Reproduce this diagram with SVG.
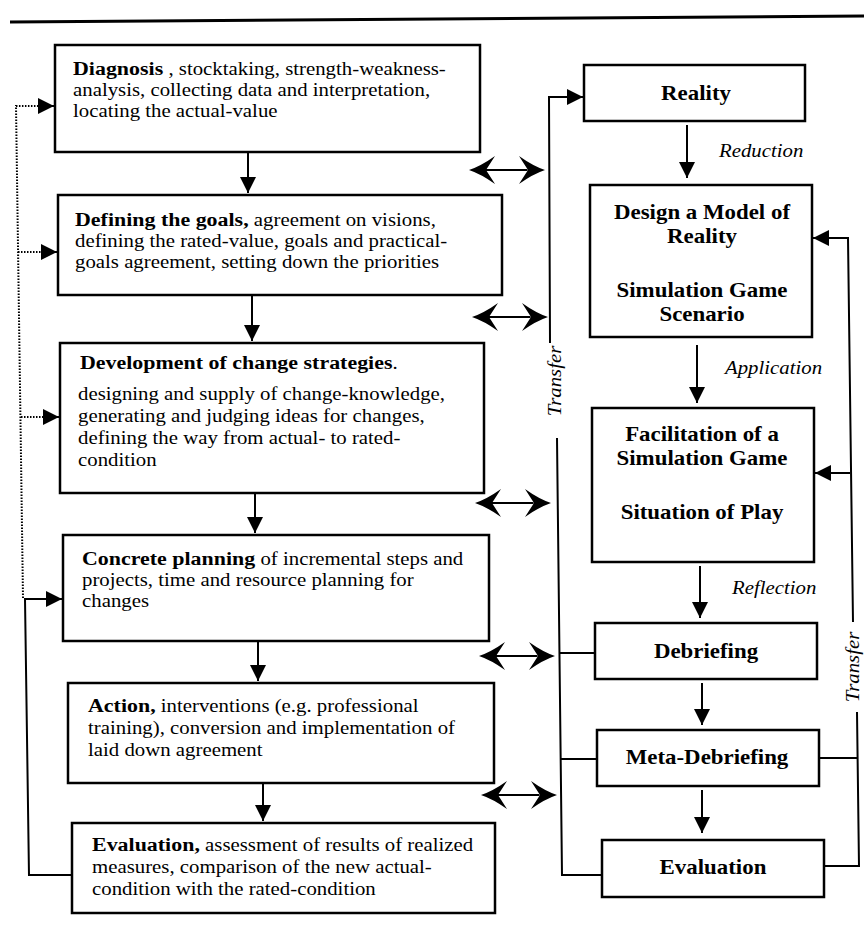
<svg xmlns="http://www.w3.org/2000/svg" xmlns:xlink="http://www.w3.org/1999/xlink" width="864" height="926" viewBox="0 0 864 926">
<style>
.box{fill:#fff;stroke:#000;stroke-width:2.5}
.ln{fill:none;stroke:#000;stroke-width:2}
.dot{fill:none;stroke:#000;stroke-width:2;stroke-dasharray:1.5 1.5}
.t{font-family:"Liberation Serif","Times New Roman",serif;font-size:18.5px;fill:#000}
.b{font-weight:bold;font-size:19.5px}
.rb{font-family:"Liberation Serif","Times New Roman",serif;font-weight:bold;font-size:22px;fill:#000;text-anchor:middle}
.it{font-family:"Liberation Serif","Times New Roman",serif;font-style:italic;font-size:18.5px;fill:#000}
</style>
<defs>
<marker id="ah" viewBox="0 0 16 16" refX="16" refY="8" markerUnits="userSpaceOnUse" markerWidth="16" markerHeight="16" orient="auto"><path d="M0,0 L16,8 L0,16 Z" fill="#000"/></marker>
<path id="dbl" d="M0,0 Q12,-4 26,-14 L17,0 L26,14 Q12,4 0,0 Z M76,0 Q64,-4 50,-14 L59,0 L50,14 Q64,4 76,0 Z M17,-1 H59 V1 H17 Z" fill="#000"/>
</defs>
<line x1="10" y1="22" x2="864" y2="16" stroke="#000" stroke-width="3"/>

<g id="diagnosis">
<rect class="box" x="55" y="45" width="425" height="107"/>
<text class="t" transform="translate(73,75) scale(1.125,1)"><tspan class="b">Diagnosis</tspan> , stocktaking, strength-weakness-</text>
<text class="t" transform="translate(73,96) scale(1.125,1)">analysis, collecting data and interpretation,</text>
<text class="t" transform="translate(73,117) scale(1.125,1)">locating the actual-value</text>
</g>
<g id="goals">
<rect class="box" x="58" y="195" width="444" height="100"/>
<text class="t" transform="translate(75,226) scale(1.125,1)"><tspan class="b">Defining the goals,</tspan> agreement on visions,</text>
<text class="t" transform="translate(75,247) scale(1.125,1)">defining the rated-value, goals and practical-</text>
<text class="t" transform="translate(75,268) scale(1.125,1)">goals agreement, setting down the priorities</text>
</g>
<g id="strategies">
<rect class="box" x="60" y="343" width="424" height="150"/>
<text class="t" transform="translate(80,369) scale(1.125,1)"><tspan class="b">Development of change strategies</tspan>.</text>
<text class="t" transform="translate(78,400) scale(1.125,1)">designing and supply of change-knowledge,</text>
<text class="t" transform="translate(78,422) scale(1.125,1)">generating and judging ideas for changes,</text>
<text class="t" transform="translate(78,444) scale(1.125,1)">defining the way from actual- to rated-</text>
<text class="t" transform="translate(78,466) scale(1.125,1)">condition</text>
</g>
<g id="planning">
<rect class="box" x="63" y="535" width="426" height="106"/>
<text class="t" transform="translate(82,565) scale(1.125,1)"><tspan class="b">Concrete planning</tspan> of incremental steps and</text>
<text class="t" transform="translate(82,586) scale(1.125,1)">projects, time and resource planning for</text>
<text class="t" transform="translate(82,607) scale(1.125,1)">changes</text>
</g>
<g id="action">
<rect class="box" x="68" y="683" width="426" height="100"/>
<text class="t" transform="translate(88,712) scale(1.125,1)"><tspan class="b">Action,</tspan> interventions (e.g. professional</text>
<text class="t" transform="translate(88,734) scale(1.125,1)">training), conversion and implementation of</text>
<text class="t" transform="translate(88,756) scale(1.125,1)">laid down agreement</text>
</g>
<g id="evaluation-left">
<rect class="box" x="72" y="823" width="423" height="90"/>
<text class="t" transform="translate(92,851) scale(1.125,1)"><tspan class="b">Evaluation,</tspan> assessment of results of realized</text>
<text class="t" transform="translate(92,873) scale(1.125,1)">measures, comparison of the new actual-</text>
<text class="t" transform="translate(92,895) scale(1.125,1)">condition with the rated-condition</text>
</g>

<g id="reality">
<rect class="box" x="584" y="65" width="221" height="56"/>
<text class="rb" transform="translate(696,100) scale(1.04,1)">Reality</text>
</g>
<g id="model">
<rect class="box" x="590" y="185" width="222" height="152"/>
<text class="rb" transform="translate(702,219) scale(1.04,1)">Design a Model  of</text>
<text class="rb" transform="translate(702,243) scale(1.04,1)">Reality</text>
<text class="rb" transform="translate(702,297) scale(1.04,1)">Simulation Game</text>
<text class="rb" transform="translate(702,321) scale(1.04,1)">Scenario</text>
</g>
<g id="facilitation">
<rect class="box" x="592" y="408" width="222" height="154"/>
<text class="rb" transform="translate(702,441) scale(1.04,1)">Facilitation of a</text>
<text class="rb" transform="translate(702,465) scale(1.04,1)">Simulation Game</text>
<text class="rb" transform="translate(702,519) scale(1.04,1)">Situation of Play</text>
</g>
<g id="debriefing">
<rect class="box" x="595" y="623" width="222" height="56"/>
<text class="rb" transform="translate(706,658) scale(1.04,1)">Debriefing</text>
</g>
<g id="meta-debriefing">
<rect class="box" x="597" y="730" width="222" height="56"/>
<text class="rb" transform="translate(707,764) scale(1.04,1)">Meta-Debriefing</text>
</g>
<g id="evaluation-right">
<rect class="box" x="602" y="840" width="222" height="57"/>
<text class="rb" transform="translate(713,874) scale(1.04,1)">Evaluation</text>
</g>

<g id="connectors">
<path class="ln" d="M248,152 V193" marker-end="url(#ah)"/>
<path class="ln" d="M252,295 V341" marker-end="url(#ah)"/>
<path class="ln" d="M255,493 V533" marker-end="url(#ah)"/>
<path class="ln" d="M258,641 V681" marker-end="url(#ah)"/>
<path class="ln" d="M263,783 V821" marker-end="url(#ah)"/>

<path class="ln" d="M687,125 V178" marker-end="url(#ah)"/>
<path class="ln" d="M697,345 V403" marker-end="url(#ah)"/>
<path class="ln" d="M700,566 V618" marker-end="url(#ah)"/>
<path class="ln" d="M702,683 V725" marker-end="url(#ah)"/>
<path class="ln" d="M702,790 V833" marker-end="url(#ah)"/>
<text class="it" transform="translate(719,157) scale(1.125,1)">Reduction</text>
<text class="it" transform="translate(725,374) scale(1.125,1)">Application</text>
<text class="it" transform="translate(732,594) scale(1.125,1)">Reflection</text>

<use xlink:href="#dbl" href="#dbl" transform="translate(469,170)"/>
<use xlink:href="#dbl" href="#dbl" transform="translate(472,317)"/>
<use xlink:href="#dbl" href="#dbl" transform="translate(475,503)"/>
<use xlink:href="#dbl" href="#dbl" transform="translate(479,656)"/>
<use xlink:href="#dbl" href="#dbl" transform="translate(481,795)"/>

<path class="ln" d="M550,343 L549,97 H583" marker-end="url(#ah)"/>
<path class="ln" d="M557,438 L562,875 H602"/>
<path class="ln" d="M559,653 H595"/>
<path class="ln" d="M561,759 H597"/>
<text class="it" transform="translate(561,381) rotate(-90) scale(1.125,1)" text-anchor="middle">Transfer</text>

<path class="ln" d="M853,622 L848,238 H813" marker-end="url(#ah)"/>
<path class="ln" d="M850,473 H815" marker-end="url(#ah)"/>
<path class="ln" d="M857,712 L859,866 H824"/>
<path class="ln" d="M819,758 H858"/>
<text class="it" transform="translate(859,667) rotate(-90) scale(1.125,1)" text-anchor="middle">Transfer</text>

<path class="dot" d="M23,598 L16,106 H40"/>
<path class="dot" d="M18,252 H42"/>
<path class="dot" d="M21,417 H44"/>
<path class="ln" d="M40,106 H54" marker-end="url(#ah)"/>
<path class="ln" d="M42,252 H57" marker-end="url(#ah)"/>
<path class="ln" d="M44,417 H59" marker-end="url(#ah)"/>
<path class="ln" d="M72,875 H29 L25,599 H62" marker-end="url(#ah)"/>
</g>
</svg>
